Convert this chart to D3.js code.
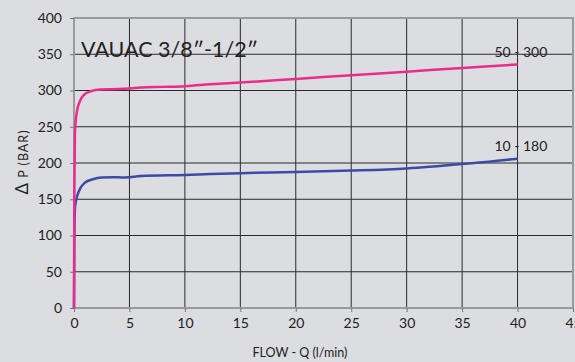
<!DOCTYPE html>
<meta charset="utf-8">
<style>
body { margin: 0; background: #dcdde0; }
svg { display: block; }
text { font-family: Lato, "DejaVu Sans", sans-serif; fill: #222; }
</style>
<body>
<div id="chart"></div>
<script src="https://d3js.org/d3.v7.min.js"></script>
<script>

// readings (flow l/min, pressure bar)
var pinkFlow = [0, 0.03, 0.08, 0.25, 0.5, 0.9, 1.5, 2.4, 4, 5, 6, 8, 10, 12.3, 15, 20, 25, 30, 35, 40];
var pinkBar  = [0, 150, 240, 270, 284, 294, 299, 301.5, 302, 302.8, 304, 305, 306, 308.5, 311, 316, 321, 326, 331, 336];
var blueFlow = [0, 0.03, 0.1, 0.3, 0.6, 1, 1.7, 2.5, 3.5, 4.5, 5, 6, 10, 15, 20, 25, 30, 35, 40];
var blueBar  = [0, 100, 140, 155, 166, 173, 177.5, 180, 180.5, 180, 180.5, 182, 183.5, 186, 187.5, 189.5, 192.5, 198.5, 206];
var xTicks = [0, 5, 10, 15, 20, 25, 30, 35, 40, 45];
var yTicks = [0, 50, 100, 150, 200, 250, 300, 350, 400];
var seriesLabels = ["50 - 300", "10 - 180"];

var width = 575,
    height = 362;
var margin = {top: 18, right: 2, bottom: 54, left: 74};

var svg = d3.select("#chart").append("svg")
    .attr("width", width)
    .attr("height", height);

svg.append("rect")
    .attr("width", width).attr("height", height)
    .attr("fill", "#dcdde0");

var x = d3.scaleLinear().domain([0, 45]).range([margin.left, width - margin.right]);
var y = d3.scaleLinear().domain([0, 400]).range([height - margin.bottom, margin.top]);

// grid
svg.append("g").selectAll("line").data(xTicks.slice(1, -1)).join("line")
    .attr("x1", d => x(d)).attr("x2", d => x(d))
    .attr("y1", y(0)).attr("y2", y(400))
    .attr("stroke", "#2a2a2a").attr("stroke-width", 1);
svg.append("g").selectAll("line").data(yTicks.slice(1, -1)).join("line")
    .attr("x1", x(0)).attr("x2", x(45))
    .attr("y1", d => y(d)).attr("y2", d => y(d))
    .attr("stroke", "#2a2a2a").attr("stroke-width", 1);

// frame
svg.append("rect")
    .attr("x", x(0)).attr("y", y(400))
    .attr("width", x(45) - x(0)).attr("height", y(0) - y(400))
    .attr("fill", "none").attr("stroke", "#9a9a9a").attr("stroke-width", 2);

// axes
var xAxis = svg.append("g")
    .attr("transform", "translate(0," + y(0) + ")")
    .call(d3.axisBottom(x).tickValues(xTicks).tickSize(4).tickSizeOuter(0).tickPadding(6));
var yAxis = svg.append("g")
    .attr("transform", "translate(" + x(0) + ",0)")
    .call(d3.axisLeft(y).tickValues(yTicks).tickSize(4).tickSizeOuter(0).tickPadding(8));
[xAxis, yAxis].forEach(function(a) {
    a.select(".domain").remove();
    a.selectAll(".tick line").attr("stroke", "#777");
    a.selectAll("text").style("font-size", "14px").attr("fill", "#222");
});

// curves
var line = d3.line()
    .x(d => x(d[0])).y(d => y(d[1]))
    .curve(d3.curveMonotoneX);

svg.append("path")
    .datum(blueFlow.map((f, i) => [f, blueBar[i]]))
    .attr("d", line)
    .attr("fill", "none").attr("stroke", "#3b4aa6").attr("stroke-width", 2.5);
svg.append("path")
    .datum(pinkFlow.map((f, i) => [f, pinkBar[i]]))
    .attr("d", line)
    .attr("fill", "none").attr("stroke", "#ea2d8c").attr("stroke-width", 2.5);

// series labels
svg.append("text")
    .attr("x", x(40.3)).attr("y", y(346))
    .attr("text-anchor", "middle").style("font-size", "14px")
    .text(seriesLabels[0]);
svg.append("text")
    .attr("x", x(40.3)).attr("y", y(216))
    .attr("text-anchor", "middle").style("font-size", "14px")
    .text(seriesLabels[1]);

// title
svg.append("text")
    .attr("x", 81).attr("y", 57)
    .style("font-size", "21.5px")
    .text("VAUAC 3/8\u2033-1/2\u2033");

// axis titles
svg.append("text")
    .attr("x", 300).attr("y", 357)
    .attr("text-anchor", "middle").style("font-size", "12.5px")
    .text("FLOW - Q (l/min)");
var yTitle = svg.append("text")
    .attr("transform", "translate(28," + 162 + ") rotate(-90)")
    .attr("text-anchor", "middle").style("font-size", "12.5px")
    .style("letter-spacing", "1px");
yTitle.append("tspan").style("font-size", "17px").text("\u0394");
yTitle.append("tspan").text("  P (BAR)");

</script>
